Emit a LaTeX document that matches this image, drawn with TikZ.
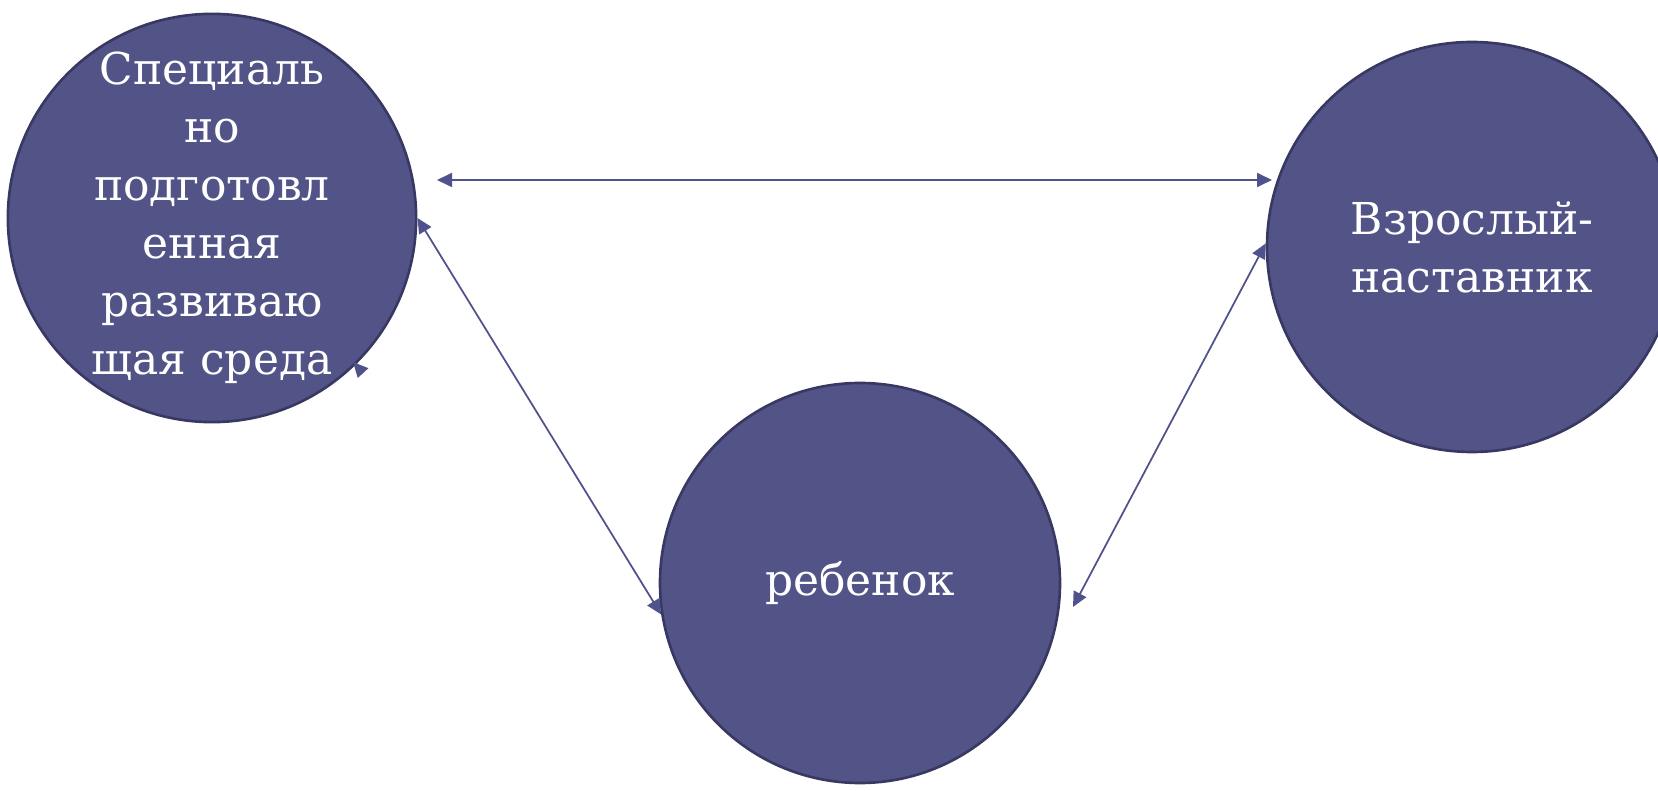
\documentclass[tikz,border=0pt]{standalone}
\usepackage{fontspec}
\setmainfont{DejaVu Serif}
\usetikzlibrary{arrows.meta}
\definecolor{circfill}{RGB}{82,84,136}
\definecolor{circedge}{RGB}{56,56,98}
\definecolor{linkc}{RGB}{80,82,140}
\begin{document}
\begin{tikzpicture}[
  bubble/.style={circle, fill=circfill, draw=circedge, line width=1.5pt, minimum size=8cm, inner sep=0pt,
    text=white, align=center, font=\fontsize{25}{33}\selectfont},
  twoway/.style={draw=linkc, line width=1pt, {Triangle[length=0.3cm,width=0.28cm]}-{Triangle[length=0.3cm,width=0.28cm]}},
  oneway/.style={draw=linkc, line width=1pt, -{Triangle[length=0.3cm,width=0.28cm]}}
]
\useasboundingbox (0,0) rectangle (33.16,15.82);
\clip (0,0) rectangle (33.16,15.82);
\node[bubble] (env) at (4.24,11.46) {Специаль\\но\\подготовл\\енная\\развиваю\\щая среда};
\node[bubble] (child) at (17.2,4.16) {ребенок};
\node[bubble, minimum size=8.2cm] (adult) at (29.44,10.88) {Взрослый-\\наставник};
\coordinate (topleft) at (8.74,12.22);
\coordinate (topright) at (25.44,12.22);
\coordinate (childright) at (21.46,3.68);
\coordinate (stub) at (7.26,8.36);
\draw[twoway] (topleft) -- (topright);
\draw[twoway] (env.east) -- (child.189);
\draw[twoway] (adult.179) -- (childright);
\draw[oneway] (stub) -- (7.06,8.58);
\end{tikzpicture}
\end{document}
